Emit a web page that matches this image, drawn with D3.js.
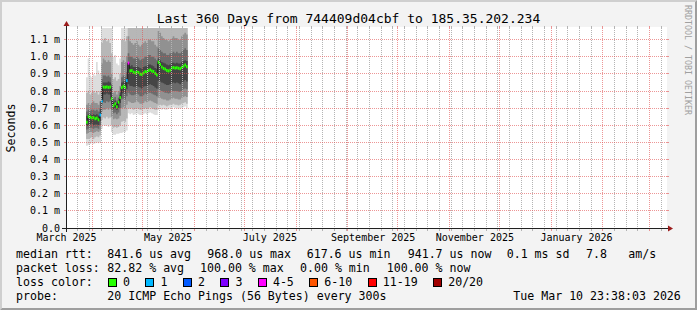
<!DOCTYPE html>
<html>
<head>
<meta charset="utf-8">
<script src="https://cdn.jsdelivr.net/npm/d3@7/dist/d3.min.js"></script>
<style>
  html, body { margin: 0; padding: 0; background: #f3f3f3; }
  svg { display: block; }
  text { font-family: "DejaVu Sans Mono", monospace; white-space: pre; }
</style>
</head>
<body>
<script>
// one value per day, in ms, starting at firstDay
var firstDay = "2025-03-28"
var median = [0.618, 0.650, 0.648, 0.643, 0.645, 0.638, 0.642, 0.632, 0.660,
  0.740, 0.823, 0.822, 0.824, 0.821, 0.823,
  0.755, 0.715, 0.725, 0.708, 0.735, 0.762,
  0.820, 0.828, 0.822, 0.861,
  0.963, 0.918, 0.919, 0.910, 0.906, 0.911, 0.908, 0.899, 0.897, 0.905, 0.913, 0.912, 0.920, 0.924, 0.917, 0.914, 0.903, 0.894,
  0.968, 0.955, 0.940, 0.932, 0.928, 0.920, 0.917, 0.922, 0.935, 0.937, 0.934, 0.936, 0.933, 0.930, 0.938, 0.945, 0.952, 0.942]
// lost pings out of 20
var loss = [0, 0, 0, 0, 0, 0, 0, 0, 1,
  1, 0, 0, 0, 0, 0,
  0, 0, 0, 0, 0, 0,
  0, 0, 0, 1,
  4, 0, 0, 0, 0, 0, 0, 0, 0, 0, 0, 0, 0, 0, 0, 0, 0, 0,
  0, 0, 0, 0, 0, 0, 0, 0, 0, 0, 0, 0, 0, 0, 0, 0, 0, 0]

// smoke: nested ping ranges, outer (1) to inner (5)
var smokeLo1 = [0.48, 0.485, 0.49, 0.495, 0.49, 0.495, 0.50, 0.495, 0.50,
  0.58, 0.60, 0.595, 0.60, 0.59, 0.60,
  0.56, 0.545, 0.545, 0.55, 0.55, 0.555,
  0.555, 0.56, 0.56, 0.57,
  0.67, 0.665, 0.67, 0.66, 0.665, 0.67, 0.665, 0.66, 0.66, 0.665, 0.67, 0.665, 0.67, 0.675, 0.67, 0.665, 0.66, 0.66,
  0.69, 0.695, 0.69, 0.695, 0.69, 0.69, 0.695, 0.70, 0.70, 0.705, 0.70, 0.70, 0.695, 0.70, 0.70, 0.705, 0.71, 0.70]
var smokeHi1 = [0.88, 0.99, 0.89, 0.88, 0.90, 0.89, 0.97, 0.92, 0.90,
  1.25, 1.25, 1.25, 1.25, 1.25, 1.25,
  1.20, 1.00, 1.01, 0.96, 0.95, 0.99,
  1.25, 1.25, 1.25, 1.25,
  1.4, 1.4, 1.4, 1.4, 1.4, 1.4, 1.4, 1.4, 1.4, 1.4, 1.4, 1.4, 1.4, 1.4, 1.4, 1.4, 1.4, 1.4,
  1.4, 1.4, 1.4, 1.4, 1.4, 1.4, 1.4, 1.4, 1.4, 1.4, 1.4, 1.4, 1.4, 1.4, 1.4, 1.4, 1.4, 1.4]
var smokeLo2 = [0.52, 0.52, 0.525, 0.53, 0.52, 0.53, 0.535, 0.53, 0.54,
  0.63, 0.645, 0.64, 0.65, 0.64, 0.645,
  0.60, 0.585, 0.59, 0.585, 0.59, 0.60,
  0.62, 0.625, 0.62, 0.64,
  0.70, 0.695, 0.70, 0.69, 0.695, 0.70, 0.695, 0.69, 0.69, 0.695, 0.70, 0.695, 0.70, 0.705, 0.70, 0.695, 0.69, 0.69,
  0.715, 0.72, 0.715, 0.72, 0.715, 0.71, 0.715, 0.72, 0.72, 0.725, 0.72, 0.72, 0.715, 0.72, 0.725, 0.73, 0.735, 0.725]
var smokeHi2 = [0.79, 0.80, 0.78, 0.79, 0.80, 0.79, 0.80, 0.78, 0.80,
  1.08, 1.10, 1.11, 1.09, 1.10, 1.08,
  1.02, 0.87, 0.88, 0.86, 0.87, 0.90,
  1.10, 1.10, 1.09, 1.12,
  1.3, 1.3, 1.3, 1.3, 1.3, 1.3, 1.3, 1.3, 1.3, 1.3, 1.3, 1.3, 1.3, 1.3, 1.3, 1.3, 1.3, 1.3,
  1.3, 1.3, 1.3, 1.3, 1.3, 1.3, 1.3, 1.3, 1.3, 1.3, 1.3, 1.3, 1.3, 1.3, 1.3, 1.3, 1.3, 1.3]
var smokeLo3 = [0.55, 0.555, 0.56, 0.56, 0.555, 0.56, 0.565, 0.56, 0.57,
  0.68, 0.69, 0.69, 0.70, 0.69, 0.70,
  0.65, 0.635, 0.64, 0.635, 0.64, 0.655,
  0.70, 0.705, 0.70, 0.72,
  0.74, 0.735, 0.73, 0.73, 0.735, 0.74, 0.735, 0.725, 0.725, 0.73, 0.74, 0.735, 0.74, 0.745, 0.74, 0.735, 0.73, 0.725,
  0.76, 0.76, 0.755, 0.75, 0.75, 0.745, 0.745, 0.75, 0.755, 0.76, 0.755, 0.755, 0.75, 0.75, 0.76, 0.765, 0.77, 0.765]
var smokeHi3 = [0.72, 0.73, 0.72, 0.73, 0.74, 0.73, 0.73, 0.72, 0.74,
  0.96, 0.99, 0.98, 0.97, 0.98, 0.97,
  0.90, 0.79, 0.80, 0.78, 0.80, 0.83,
  0.97, 0.98, 0.97, 1.00,
  1.12, 1.09, 1.08, 1.07, 1.08, 1.09, 1.07, 1.06, 1.07, 1.08, 1.09, 1.08, 1.10, 1.10, 1.09, 1.09, 1.07, 1.06,
  1.15, 1.14, 1.12, 1.11, 1.10, 1.10, 1.09, 1.10, 1.11, 1.12, 1.11, 1.11, 1.10, 1.10, 1.12, 1.13, 1.14, 1.13]
var smokeLo4 = [0.575, 0.58, 0.585, 0.585, 0.58, 0.585, 0.585, 0.58, 0.60,
  0.72, 0.735, 0.73, 0.74, 0.735, 0.74,
  0.69, 0.67, 0.675, 0.665, 0.675, 0.70,
  0.75, 0.755, 0.75, 0.77,
  0.79, 0.78, 0.775, 0.775, 0.78, 0.785, 0.78, 0.77, 0.77, 0.775, 0.785, 0.78, 0.79, 0.79, 0.785, 0.78, 0.775, 0.77,
  0.81, 0.805, 0.80, 0.795, 0.79, 0.79, 0.785, 0.79, 0.80, 0.80, 0.80, 0.80, 0.795, 0.795, 0.80, 0.81, 0.815, 0.81]
var smokeHi4 = [0.68, 0.69, 0.685, 0.69, 0.69, 0.685, 0.69, 0.68, 0.70,
  0.87, 0.89, 0.89, 0.885, 0.89, 0.88,
  0.84, 0.755, 0.765, 0.745, 0.76, 0.79,
  0.88, 0.89, 0.885, 0.91,
  1.02, 1.00, 1.00, 0.99, 0.99, 1.00, 0.99, 0.98, 0.985, 0.99, 1.00, 1.00, 1.01, 1.01, 1.00, 1.00, 0.99, 0.98,
  1.05, 1.04, 1.03, 1.02, 1.02, 1.01, 1.01, 1.02, 1.02, 1.03, 1.02, 1.03, 1.02, 1.02, 1.03, 1.04, 1.05, 1.04]
var smokeLo5 = [0.595, 0.60, 0.605, 0.61, 0.60, 0.605, 0.605, 0.60, 0.625,
  0.75, 0.78, 0.78, 0.785, 0.78, 0.78,
  0.72, 0.695, 0.70, 0.69, 0.70, 0.73,
  0.785, 0.79, 0.785, 0.81,
  0.84, 0.83, 0.83, 0.825, 0.825, 0.83, 0.825, 0.82, 0.815, 0.825, 0.83, 0.83, 0.835, 0.84, 0.835, 0.83, 0.82, 0.815,
  0.86, 0.855, 0.85, 0.845, 0.84, 0.835, 0.835, 0.84, 0.845, 0.85, 0.845, 0.85, 0.845, 0.84, 0.85, 0.855, 0.865, 0.855]
var smokeHi5 = [0.655, 0.665, 0.665, 0.66, 0.665, 0.66, 0.665, 0.655, 0.675,
  0.82, 0.85, 0.85, 0.85, 0.855, 0.85,
  0.77, 0.735, 0.745, 0.725, 0.745, 0.775,
  0.85, 0.855, 0.85, 0.875,
  0.96, 0.945, 0.95, 0.94, 0.94, 0.945, 0.94, 0.935, 0.93, 0.94, 0.945, 0.945, 0.955, 0.955, 0.95, 0.945, 0.935, 0.93,
  0.99, 0.98, 0.97, 0.965, 0.96, 0.955, 0.95, 0.955, 0.965, 0.965, 0.96, 0.965, 0.96, 0.96, 0.97, 0.975, 0.98, 0.975]

// axis ticks and labels
var yTicks = [0, 0.1, 0.2, 0.3, 0.4, 0.5, 0.6, 0.7, 0.8, 0.9, 1.0, 1.1]
var yTickLabels = ["0.0", "0.1 m", "0.2 m", "0.3 m", "0.4 m", "0.5 m", "0.6 m", "0.7 m", "0.8 m", "0.9 m", "1.0 m", "1.1 m"]
var labelMonths = ["2025-03", "2025-05", "2025-07", "2025-09", "2025-11", "2026-01"]

// loss colour classes
var lossNames = ["0", "1", "2", "3", "4-5", "6-10", "11-19", "20/20"]
var lossUpper = [0, 1, 2, 3, 5, 10, 19, 20]
var lossColors = ["#26ff00", "#00b8ff", "#0059ff", "#7e00ff", "#ff00ff", "#ff5500", "#ff0000", "#a00000"]

// legend texts
var titleText = "Last 360 Days from 744409d04cbf to 185.35.202.234"
var rttStats = ["841.6 us avg", "968.0 us max", "617.6 us min", "941.7 us now", "0.1 ms sd", "7.8", "am/s"]
var lossStats = ["82.82 % avg", "100.00 % max", "0.00 % min", "100.00 % now"]
var probeText = "20 ICMP Echo Pings (56 Bytes) every 300s"
var stampText = "Tue Mar 10 23:38:03 2026"

var endTime = new Date(2026, 2, 10, 23, 38, 3)
var startTime = new Date(endTime.getTime() - 360 * 86400000)

var W = 697, H = 310
var x0 = 66, x1 = 666, y0 = 228, y1 = 28
var smokeColors = ["#dddddd", "#b7b7b7", "#919191", "#6b6b6b", "#454545"]
var minorCol = "#b4b4b4", majorCol = "rgba(225,80,80,0.6)"
var charW = 6.98

var x = d3.scaleTime().domain([startTime, endTime]).range([x0, x1])
var y = d3.scaleLinear().domain([0, 1.168]).range([y0, y1])

var svg = d3.select("body").append("svg")
    .attr("width", W)
    .attr("height", H)

// dotted grid patterns: one pixel on, one off
var defs = svg.append("defs")
function dots(id, w, h, col) {
    var p = defs.append("pattern").attr("id", id)
        .attr("patternUnits", "userSpaceOnUse")
        .attr("width", w).attr("height", h)
    p.append("rect").attr("width", 1).attr("height", 1).attr("fill", col)
}
dots("vminor", 1, 2, minorCol)
dots("vmajor", 1, 2, majorCol)
dots("hmajor", 2, 1, majorCol)

// background + 3d border
svg.append("rect").attr("width", W).attr("height", H).attr("fill", "#f3f3f3")
svg.append("path").attr("fill", "#cfcfcf")
    .attr("d", "M0,0H" + W + "L" + (W - 2) + ",2H2V" + (H - 2) + "L0," + H + "Z")
svg.append("path").attr("fill", "#9e9e9e")
    .attr("d", "M" + W + "," + H + "H0L2," + (H - 2) + "H" + (W - 2) + "V2L" + W + ",0Z")

// canvas
svg.append("rect").attr("x", x0).attr("y", y1 - 1).attr("width", x1 - x0 + 1).attr("height", y0 - y1 + 1).attr("fill", "#ffffff")

svg.append("clipPath").attr("id", "plotclip")
    .append("rect").attr("x", x0 + 1).attr("y", y1).attr("width", x1 - x0).attr("height", y0 - y1)

var dayParse = d3.timeParse("%Y-%m-%d")
var days = d3.timeDay.range(dayParse(firstDay), d3.timeDay.offset(dayParse(firstDay), median.length + 1))
var last = median.length - 1

var plot = svg.append("g").attr("clip-path", "url(#plotclip)")

// smoke bands
var smokeLo = [smokeLo1, smokeLo2, smokeLo3, smokeLo4, smokeLo5]
var smokeHi = [smokeHi1, smokeHi2, smokeHi3, smokeHi4, smokeHi5]
var area = d3.area()
    .x(d => x(d.t))
    .y0(d => y(d.lo))
    .y1(d => y(d.hi))
    .curve(d3.curveStepAfter)

smokeLo.forEach(function(lo, b) {
    var pts = days.map((t, i) => ({t: t, lo: lo[Math.min(i, last)], hi: smokeHi[b][Math.min(i, last)]}))
    plot.append("path")
        .attr("d", area(pts))
        .attr("fill", smokeColors[b])
})

// thin median line
var medLine = d3.line()
    .x(d => x(d.t))
    .y(d => y(d.v))
    .curve(d3.curveStepAfter)
plot.append("path")
    .attr("d", medLine(days.map((t, i) => ({t: t, v: median[Math.min(i, last)]}))))
    .attr("fill", "none")
    .attr("stroke", "#202020")
    .attr("stroke-width", 1)

// loss coloured median
plot.selectAll("rect.med")
    .data(median)
    .enter().append("rect")
    .attr("class", "med")
    .attr("x", (d, i) => x(days[i]))
    .attr("width", (d, i) => x(days[i + 1]) - x(days[i]))
    .attr("y", d => y(d) - 1.5)
    .attr("height", 3)
    .attr("fill", (d, i) => lossColors[lossUpper.findIndex(u => loss[i] <= u)])

// grid: weekly minor (Sundays), monthly major
var grid = svg.append("g")
var allDays = d3.timeDay.range(startTime, endTime)
var months = allDays.filter(d => d.getDate() === 1)
var weeks = allDays.filter(d => d.getDay() === 0 && d.getDate() !== 1)

function vline(t, col, pat) {
    var xx = Math.floor(x(t))
    grid.append("rect").attr("x", xx).attr("y", y0 + 1).attr("width", 1).attr("height", 2).attr("fill", col)
    grid.append("rect").attr("x", xx).attr("y", y1).attr("width", 1).attr("height", y0 - y1)
        .attr("fill", "url(#" + pat + ")")
    grid.append("rect").attr("x", xx).attr("y", y1 - 2).attr("width", 1).attr("height", 2).attr("fill", col)
}
weeks.forEach(function(w) { vline(w, minorCol, "vminor") })
months.forEach(function(m) { vline(m, majorCol, "vmajor") })

yTicks.forEach(function(v, i) {
    var yy = Math.floor(y(v))
    if (v > 0) {
        grid.append("rect").attr("x", x0 - 2).attr("y", yy).attr("width", 2).attr("height", 1).attr("fill", majorCol)
        grid.append("rect").attr("x", x0 + 1).attr("y", yy).attr("width", x1 - x0).attr("height", 1)
            .attr("fill", "url(#hmajor)")
        grid.append("rect").attr("x", x1 + 1).attr("y", yy).attr("width", 2).attr("height", 1).attr("fill", majorCol)
    }
    svg.append("text")
        .attr("x", 60)
        .attr("y", yy + 4)
        .attr("text-anchor", "end")
        .style("font-size", "10px")
        .attr("fill", "#000")
        .text(yTickLabels[i])
})

// x labels, centred half a month after the tick
var parseMonth = d3.timeParse("%Y-%m")
var fmtMonth = d3.timeFormat("%B %Y")
labelMonths.forEach(function(s) {
    var m = parseMonth(s)
    svg.append("text")
        .attr("x", x(d3.timeDay.offset(m, 15)) + 0.5)
        .attr("y", 241)
        .attr("text-anchor", "middle")
        .style("font-size", "10px")
        .text(fmtMonth(m))
})

// axes and arrows
svg.append("rect").attr("x", x0 - 4).attr("y", y0).attr("width", x1 - x0 + 8).attr("height", 1).attr("fill", "#202020")
svg.append("rect").attr("x", x0).attr("y", y1 - 4).attr("width", 1).attr("height", y0 - y1 + 8).attr("fill", "#202020")
svg.append("path").attr("fill", "#9b1c1c")
    .attr("d", "M" + (x1 + 2) + "," + (y0 - 2.5) + "L" + (x1 + 2) + "," + (y0 + 3.5) + "L" + (x1 + 7) + "," + (y0 + 0.5) + "Z")
svg.append("path").attr("fill", "#9b1c1c")
    .attr("d", "M" + (x0 - 2.5) + "," + (y1 - 2) + "L" + (x0 + 3.5) + "," + (y1 - 2) + "L" + (x0 + 0.5) + "," + (y1 - 7) + "Z")

// title, unit label, watermark
svg.append("text").attr("x", W / 2).attr("y", 23).attr("text-anchor", "middle")
    .style("font-size", "13px").text(titleText)
svg.append("text").attr("transform", "translate(15," + ((y0 + y1) / 2) + ") rotate(-90)")
    .attr("text-anchor", "middle").style("font-size", "11.6px").text("Seconds")
svg.append("text").attr("transform", "translate(685,5) rotate(90)")
    .style("font-size", "8.3px").attr("fill", "#a0a0a0").text("RRDTOOL / TOBI OETIKER")

// legend
var legend = svg.append("g").style("font-size", "11.6px")
var rowY = [258, 272, 286, 300]
var rttCols = [107.3, 207.3, 306.7, 407.7, 506.7, 586, 628.3]
var lossCols = [107.3, 200, 300, 386.7]

legend.append("text").attr("x", 16).attr("y", rowY[0]).text("median rtt:")
rttStats.forEach((s, i) => legend.append("text").attr("x", rttCols[i]).attr("y", rowY[0]).text(s))
legend.append("text").attr("x", 16).attr("y", rowY[1]).text("packet loss:")
lossStats.forEach((s, i) => legend.append("text").attr("x", lossCols[i]).attr("y", rowY[1]).text(s))
legend.append("text").attr("x", 16).attr("y", rowY[2]).text("loss color:")

var bx = 108
lossNames.forEach(function(name, i) {
    legend.append("rect")
        .attr("x", bx + 0.5).attr("y", rowY[2] - 7.5)
        .attr("width", 8).attr("height", 8)
        .attr("fill", lossColors[i])
        .attr("stroke", "#000").attr("stroke-width", 1)
        .attr("shape-rendering", "crispEdges")
    legend.append("text").attr("x", bx + 15).attr("y", rowY[2]).text(name)
    bx = bx + 15 + name.length * charW + 15.5
})

legend.append("text").attr("x", 16).attr("y", rowY[3]).text("probe:")
legend.append("text").attr("x", 107.3).attr("y", rowY[3]).text(probeText)
legend.append("text").attr("x", 513.3).attr("y", rowY[3]).text(stampText)
</script>
</body>
</html>
